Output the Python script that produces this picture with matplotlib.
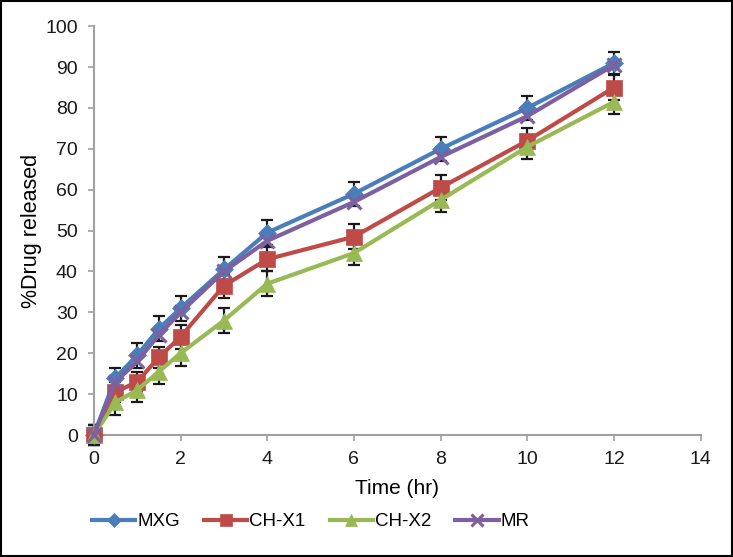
import matplotlib
matplotlib.use("Agg")
import matplotlib.pyplot as plt
from matplotlib.patches import Rectangle

time = [0, 0.5, 1, 1.5, 2, 3, 4, 6, 8, 10, 12]
mxg = [0, 14, 19.5, 26, 31, 40.5, 49.5, 59, 70, 80, 91]
chx1 = [0, 10.5, 13, 19, 24, 36.5, 43, 48.5, 60.5, 72, 85]
chx2 = [0, 8, 11, 15.5, 20, 28, 37, 44.5, 57.5, 70.5, 81.5]
mr = [0, 13, 18, 24.5, 30, 40, 47.5, 57, 68, 78, 90.5]
err_mxg = [2.5, 2.5, 3, 3, 3, 3, 3, 3, 3, 3, 2.7]
err_chx1 = [2.5, 2.5, 2.5, 2.5, 3, 3, 3, 3, 3, 3, 3]
err_chx2 = [2.5, 3, 3, 3, 3, 3, 3, 3, 3, 3, 3]

xticks = [0, 2, 4, 6, 8, 10, 12, 14]
yticks = [0, 10, 20, 30, 40, 50, 60, 70, 80, 90, 100]

plt.rcParams['font.family'] = ['Liberation Sans', 'DejaVu Sans']

fig = plt.figure(figsize=(7.33, 5.57), dpi=100)
ax = fig.add_axes([0.128, 0.219, 0.828, 0.734])

series = [
    ("MXG", mxg, err_mxg, "#4A7EBB", "D", 9),
    ("CH-X1", chx1, err_chx1, "#BE4B48", "s", 11),
    ("CH-X2", chx2, err_chx2, "#98B954", "^", 11),
    ("MR", mr, None, "#7D60A0", "x", 10),
]
for name, vals, err, col, mk, ms in series:
    if err is not None:
        ax.errorbar(time, vals, yerr=err, fmt='none', ecolor='#1a1a1a',
                    elinewidth=1.6, capsize=4.5, capthick=1.6, zorder=2, clip_on=False)
for name, vals, err, col, mk, ms in series:
    ax.plot(time, vals, color=col, marker=mk, markersize=ms, linewidth=3,
            markeredgewidth=2.2 if mk == 'x' else 0.5, markeredgecolor=col,
            label=name, zorder=3, clip_on=False)

ax.set_xlim(0, 14)
ax.set_ylim(0, 100)
ax.set_xticks(xticks)
ax.set_yticks(yticks)
for s in ['top', 'right']:
    ax.spines[s].set_visible(False)
for s in ['left', 'bottom']:
    ax.spines[s].set_color('#a0a0a0')
    ax.spines[s].set_linewidth(1.5)
ax.tick_params(direction='out', color='#a0a0a0', width=1.2, length=4.5,
               labelsize=14, labelcolor='#1a1a1a')
ax.tick_params(axis='y', pad=7)
ax.tick_params(axis='x', pad=7)
ax.set_xlabel("Time (hr)", fontsize=15, labelpad=8)
ax.set_ylabel("%Drug released", fontsize=15.5, labelpad=2)

leg = fig.legend(loc='center', bbox_to_anchor=(0.424, 0.063), ncol=4, frameon=False,
                 fontsize=13.5, handlelength=2.3, columnspacing=1.3, handletextpad=0.1,
                 markerscale=0.8)

fig.patches.append(Rectangle((0.001, 0.001), 0.997, 0.997, transform=fig.transFigure,
                             fill=False, edgecolor='black', linewidth=1.5))

fig.savefig("out.png", dpi=100)
